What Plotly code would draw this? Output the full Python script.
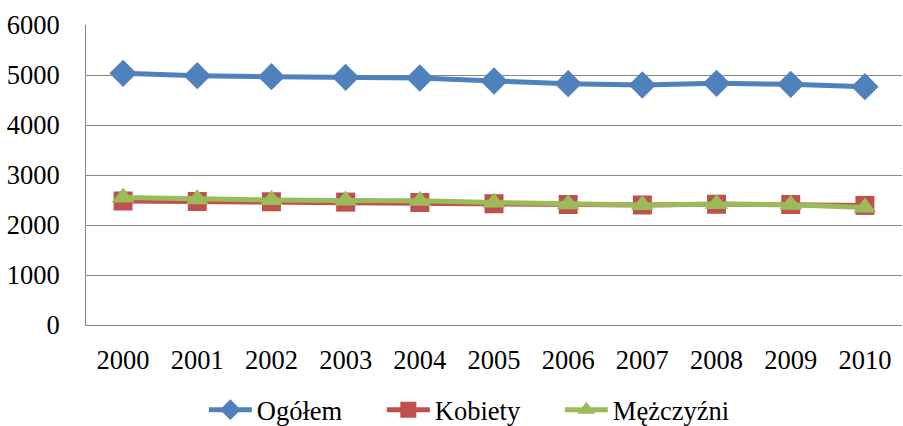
import plotly.graph_objects as go

years = ["2000", "2001", "2002", "2003", "2004", "2005", "2006", "2007", "2008", "2009", "2010"]
ogolem = [5033, 4987, 4967, 4953, 4940, 4880, 4827, 4800, 4833, 4813, 4767]
kobiety = [2480, 2470, 2465, 2458, 2450, 2425, 2410, 2400, 2415, 2410, 2392]
mezczyzni = [2550, 2515, 2500, 2490, 2485, 2450, 2417, 2400, 2418, 2403, 2350]
yticks = [0, 1000, 2000, 3000, 4000, 5000, 6000]

FONT = "Liberation Serif"

fig = go.Figure()
fig.add_trace(go.Scatter(x=years, y=ogolem, name="Ogółem", mode="lines+markers",
                         line=dict(color="#4F81BD", width=5),
                         marker=dict(symbol="diamond", size=21, color="#4F81BD")))
fig.add_trace(go.Scatter(x=years, y=kobiety, name="Kobiety", mode="lines+markers",
                         line=dict(color="#C0504D", width=5),
                         marker=dict(symbol="square", size=19, color="#C0504D")))
fig.add_trace(go.Scatter(x=years, y=mezczyzni, name="Mężczyźni", mode="lines+markers",
                         line=dict(color="#9BBB59", width=5),
                         marker=dict(symbol="triangle-up", size=20, color="#9BBB59")))

fig.update_layout(
    width=903, height=426,
    margin=dict(l=86, r=1, t=25, b=101, autoexpand=False),
    paper_bgcolor="white", plot_bgcolor="white",
    font=dict(family=FONT, size=26, color="black"),
    showlegend=True,
    legend=dict(orientation="h", x=0.1444, xanchor="left", y=-0.283, yanchor="middle",
                font=dict(family=FONT, size=26.5, color="black"), itemwidth=43,
                entrywidth=120, entrywidthmode="pixels", tracegroupgap=0),
    xaxis=dict(type="category", range=[-0.5, 10.5], showgrid=False, showline=True,
               linecolor="#868686", linewidth=1,
               ticks="", tickfont=dict(family=FONT, size=26.5, color="black"), ticklabelstandoff=11,
               zeroline=False, automargin=False),
    yaxis=dict(range=[0, 6000], tickvals=yticks, showgrid=True, gridcolor="#868686", gridwidth=1,
               showline=True, linecolor="#868686", linewidth=1, ticks="",
               tickfont=dict(family=FONT, size=26.5, color="black"), ticklabelstandoff=20,
               zeroline=False, automargin=False),
)

fig.write_html("out.html", config={"displayModeBar": False},
               post_script="document.body.style.margin='0';document.body.style.overflow='hidden';")
